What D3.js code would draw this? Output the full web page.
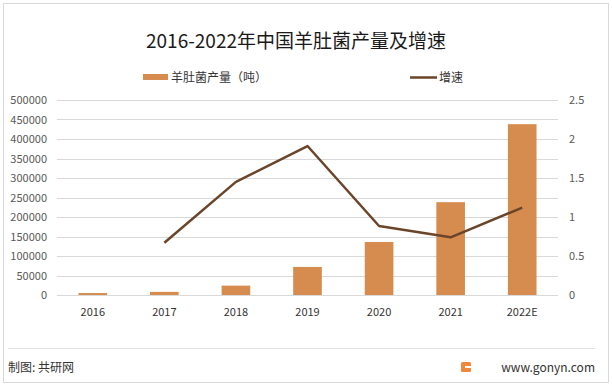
<!DOCTYPE html>
<html>
<head>
<meta charset="utf-8">
<script src="https://cdn.jsdelivr.net/npm/d3@7"></script>
<style>
  body { margin: 0; background: #fff; }
  text { font-family: "Noto Sans CJK SC", "Noto Sans", sans-serif; }
</style>
</head>
<body>
<div id="chart"></div>
<script>
// data
const years = ['2016', '2017', '2018', '2019', '2020', '2021', '2022E'];
const output = [5000, 8000, 24000, 72000, 136000, 238000, 438000];
const growth = [null, 0.67, 1.45, 1.91, 0.885, 0.74, 1.12];
const leftTicks = [0, 50000, 100000, 150000, 200000, 250000, 300000, 350000, 400000, 450000, 500000];
const rightTicks = [0, 0.5, 1, 1.5, 2, 2.5];

const width = 612, height = 385;
const margin = { top: 100, right: 54, bottom: 90, left: 57 };
const innerW = width - margin.left - margin.right;
const innerH = height - margin.top - margin.bottom;

const svg = d3.select('#chart').append('svg')
  .attr('width', width)
  .attr('height', height);

// outer frame
svg.append('rect')
  .attr('x', 3.5).attr('y', 3.5)
  .attr('width', width - 7).attr('height', height - 6)
  .attr('fill', '#fff')
  .attr('stroke', '#d9d9d9');

// title
svg.append('text')
  .attr('x', 296).attr('y', 48)
  .attr('text-anchor', 'middle')
  .attr('font-size', 19)
  .attr('fill', '#1a1a1a')
  .text('2016-2022年中国羊肚菌产量及增速');

// legend
const legend = svg.append('g');
legend.append('rect')
  .attr('x', 143).attr('y', 74)
  .attr('width', 25).attr('height', 6)
  .attr('fill', '#D68C4E');
legend.append('text')
  .attr('x', 171).attr('y', 81.5)
  .attr('font-size', 12).attr('fill', '#333')
  .text('羊肚菌产量（吨）');
legend.append('line')
  .attr('x1', 410).attr('x2', 437)
  .attr('y1', 77.5).attr('y2', 77.5)
  .attr('stroke', '#6B4529').attr('stroke-width', 2.5);
legend.append('text')
  .attr('x', 439).attr('y', 81.5)
  .attr('font-size', 12).attr('fill', '#333')
  .text('增速');

const chart = svg.append('g')
  .attr('transform', `translate(${margin.left},${margin.top})`);

// scales
const xScale = d3.scaleBand()
  .domain(years)
  .range([0, innerW])
  .paddingInner(0.6)
  .paddingOuter(0.3);

const yLeft = d3.scaleLinear()
  .domain([0, 500000])
  .range([innerH, 0]);

const yRight = d3.scaleLinear()
  .domain([0, 2.5])
  .range([innerH, 0]);

// gridlines
chart.append('g')
  .selectAll('line')
  .data(leftTicks)
  .enter().append('line')
  .attr('x1', 0).attr('x2', innerW)
  .attr('y1', d => Math.round(yLeft(d)) + 0.5)
  .attr('y2', d => Math.round(yLeft(d)) + 0.5)
  .attr('stroke', '#d9d9d9')
  .attr('stroke-width', 1);

// axes
const yAxisLeft = d3.axisLeft(yLeft)
  .tickValues(leftTicks)
  .tickFormat(d3.format('d'))
  .tickSize(0)
  .tickPadding(10);

chart.append('g')
  .attr('class', 'y axis')
  .call(yAxisLeft)
  .call(g => g.select('.domain').remove())
  .call(g => g.selectAll('text').attr('font-size', 11).attr('fill', '#595959'));

const yAxisRight = d3.axisRight(yRight)
  .tickValues(rightTicks)
  .tickFormat(d => String(d))
  .tickSize(0)
  .tickPadding(11);

chart.append('g')
  .attr('class', 'y2 axis')
  .attr('transform', `translate(${innerW},0)`)
  .call(yAxisRight)
  .call(g => g.select('.domain').remove())
  .call(g => g.selectAll('text').attr('font-size', 11).attr('fill', '#595959'));

const xAxis = d3.axisBottom(xScale)
  .tickSize(0)
  .tickPadding(13);

chart.append('g')
  .attr('class', 'x axis')
  .attr('transform', `translate(0,${innerH})`)
  .call(xAxis)
  .call(g => g.select('.domain').remove())
  .call(g => g.selectAll('text').attr('font-size', 11).attr('fill', '#333'));

// bars
chart.append('g')
  .selectAll('.bar')
  .data(years.map((y, i) => ({ year: y, value: output[i] })))
  .enter().append('rect')
  .attr('class', 'bar')
  .attr('x', d => xScale(d.year))
  .attr('y', d => yLeft(d.value))
  .attr('width', xScale.bandwidth())
  .attr('height', d => innerH - yLeft(d.value))
  .attr('fill', '#D68C4E');

// growth line
const lineData = years.map((y, i) => ({ year: y, value: growth[i] }))
  .filter(d => d.value !== null);

const line = d3.line()
  .x(d => xScale(d.year) + xScale.bandwidth() / 2)
  .y(d => yRight(d.value));

chart.append('path')
  .datum(lineData)
  .attr('d', line)
  .attr('fill', 'none')
  .attr('stroke', '#6B4529')
  .attr('stroke-width', 2.5)
  .attr('stroke-linejoin', 'round');

// footer
svg.append('line')
  .attr('x1', 8).attr('x2', 595)
  .attr('y1', 348.5).attr('y2', 348.5)
  .attr('stroke', '#e3e3e3');

svg.append('text')
  .attr('x', 8).attr('y', 372)
  .attr('font-size', 12).attr('fill', '#333')
  .text('制图: 共研网');

const logo = svg.append('g').attr('transform', 'translate(461,362)');
logo.append('rect')
  .attr('width', 10).attr('height', 10).attr('rx', 1.5)
  .attr('fill', '#F0883A');
logo.append('rect')
  .attr('x', 4).attr('y', 4).attr('width', 6).attr('height', 2)
  .attr('fill', '#fff');

svg.append('text')
  .attr('x', 595).attr('y', 372)
  .attr('text-anchor', 'end')
  .attr('font-size', 12).attr('fill', '#333')
  .text('www.gonyn.com');
</script>
</body>
</html>
